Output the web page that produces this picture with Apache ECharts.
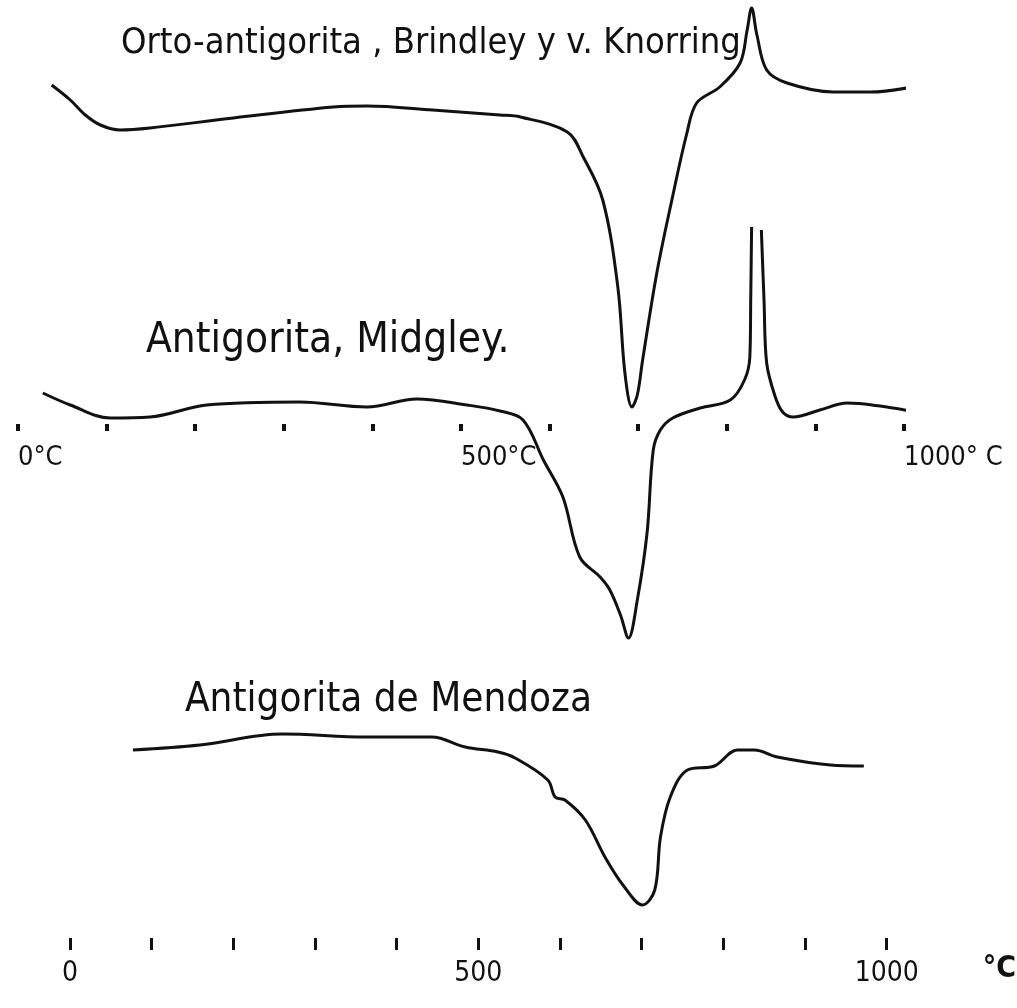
<!DOCTYPE html>
<html>
<head>
<meta charset="utf-8">
<script src="https://cdn.jsdelivr.net/npm/echarts@6/dist/echarts.min.js"></script>
<style>
html,body{margin:0;padding:0;background:#fff;}
#c{width:1017px;height:1008px;}
</style>
</head>
<body>
<div id="c"></div>
<script>
// Curve names
const curveNames = [
  'Orto-antigorita , Brindley y v. Knorring',
  'Antigorita, Midgley.',
  'Antigorita de Mendoza'
];

// Top curve: Orto-antigorita (temperature °C, deflection arbitrary units)
const topT = [38, 59, 76, 93, 115, 149, 243, 356, 394, 468, 544, 567, 620, 638, 660, 677, 685, 693, 699, 705, 721, 738, 755, 766, 792, 815, 823, 828, 834, 845, 868, 920, 962, 1003];
const topV = [25, 10, -5, -15, -20, -18, -8, 3, 4, 0, -5, -7, -22, -47, -90, -177, -263, -297, -285, -250, -163, -90, -23, 7, 23, 47, 80, 102, 75, 40, 27, 18, 18, 22];

// Middle curve: Antigorita, Midgley (null = peak off scale, two open strokes)
const midT = [28, 59, 104, 149, 213, 318, 394, 450, 507, 544, 570, 593, 615, 634, 657, 668, 680, 689, 699, 710, 717, 725, 739, 770, 804, 820, 826, 827, 828, 833, 839, 842, 845, 854, 863, 875, 905, 936, 973, 1007];
const midV = [12, 0, -13, -12, 0, 3, -2, 6, 0, -6, -15, -55, -92, -152, -172, -185, -210, -233, -195, -128, -45, -25, -13, -3, 5, 25, 48, 105, 178, null, 175, 105, 42, 10, -7, -12, -5, 2, -1, -6];

// Bottom curve: Antigorita de Mendoza
const botT = [77, 159, 260, 362, 443, 484, 524, 545, 585, 594, 606, 631, 655, 677, 701, 716, 723, 735, 756, 789, 817, 838, 866, 931, 972];
const botV = [-10, -5, 6, 3, 3, -7, -12, -18, -40, -57, -60, -80, -117, -145, -165, -150, -97, -57, -30, -26, -10, -10, -17, -25, -26];

// Axis tick labels
const midLabelValues = [0, 500, 1000];
const midLabelTexts = ['0°C', '500°C', '1000° C'];
const botLabelValues = [0, 500, 1000];
const botLabelTexts = ['0', '500', '1000'];
const botAxisUnit = '°C';

const pair = (T, V) => T.map((t, i) => [t, V[i] === null ? '-' : V[i]]);
const ink = '#111';
const hand = "'Liberation Sans Narrow', 'DejaVu Sans Condensed', 'Liberation Sans', sans-serif";

const chart = echarts.init(document.getElementById('c'), null, {renderer: 'canvas'});

const lineSeries = (idx, data) => ({
  type: 'line', xAxisIndex: idx, yAxisIndex: idx, data: data,
  symbol: 'none', smooth: 0.35, clip: false,
  lineStyle: {color: ink, width: 3}, silent: true, animation: false
});

chart.setOption({
  backgroundColor: '#fff',
  animation: false,
  title: [
    {text: curveNames[0], left: 116, top: 21, textStyle: {fontFamily: hand, fontSize: 36, fontWeight: 'normal', color: ink}},
    {text: curveNames[1], left: 141, top: 315, textStyle: {fontFamily: hand, fontSize: 42, fontWeight: 'normal', color: ink}},
    {text: curveNames[2], left: 180, top: 676, textStyle: {fontFamily: hand, fontSize: 40, fontWeight: 'normal', color: ink}}
  ],
  grid: [
    {left: 18, right: 113, top: 0, height: 424},
    {left: 18, right: 113, top: 200, height: 450},
    {left: 70, right: 127, top: 660, height: 278}
  ],
  xAxis: [
    {gridIndex: 0, type: 'value', min: 0, max: 1000, interval: 100,
     axisLine: {show: false, onZero: false}, splitLine: {show: false},
     axisTick: {show: true, length: 7, lineStyle: {color: ink, width: 4}},
     axisLabel: {show: true, margin: 20, align: 'left', color: ink, fontFamily: hand, fontSize: 27,
       formatter: v => { const k = midLabelValues.indexOf(v); return k >= 0 ? midLabelTexts[k] : ''; }}},
    {gridIndex: 1, type: 'value', min: 0, max: 1000, interval: 100, show: false},
    {gridIndex: 2, type: 'value', min: 0, max: 1000, interval: 100,
     axisLine: {show: false, onZero: false}, splitLine: {show: false},
     axisTick: {show: true, length: 12, lineStyle: {color: ink, width: 3}},
     axisLabel: {show: true, margin: 22, align: 'center', color: ink, fontFamily: hand, fontSize: 28,
       formatter: v => { const k = botLabelValues.indexOf(v); return k >= 0 ? botLabelTexts[k] : ''; }},
     name: botAxisUnit, nameLocation: 'end', nameGap: 96,
     nameTextStyle: {color: ink, fontFamily: hand, fontSize: 30, fontWeight: 'bold', align: 'left', verticalAlign: 'top', padding: [16, 0, 0, 0]}}
  ],
  yAxis: [
    {gridIndex: 0, type: 'value', min: -314, max: 110, show: false},
    {gridIndex: 1, type: 'value', min: -245, max: 205, show: false},
    {gridIndex: 2, type: 'value', min: -198, max: 80, show: false}
  ],
  series: [
    lineSeries(0, pair(topT, topV)),
    lineSeries(1, pair(midT, midV)),
    lineSeries(2, pair(botT, botV))
  ]
});
</script>
</body>
</html>
